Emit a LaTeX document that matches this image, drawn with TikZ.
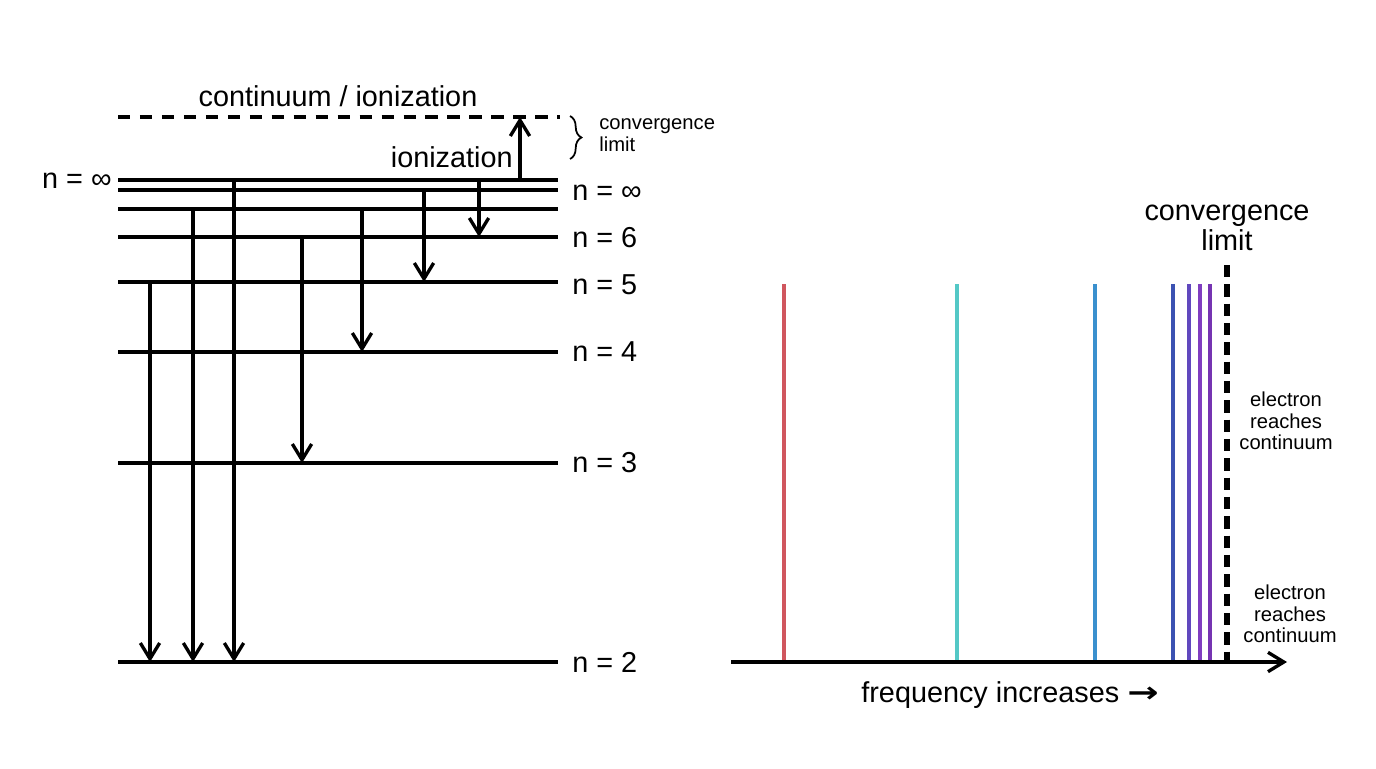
\documentclass[tikz,border=0pt]{standalone}
\usepackage{fontspec}
\setmainfont{Liberation Sans}
\newfontfamily\symfont{DejaVu Sans}
\usepackage{xcolor}
\definecolor{Col1}{RGB}{208,86,94}
\definecolor{Col2}{RGB}{84,200,198}
\definecolor{Col3}{RGB}{58,144,206}
\definecolor{Col4}{RGB}{60,82,178}
\definecolor{Col5}{RGB}{96,72,190}
\definecolor{Col6}{RGB}{128,62,192}
\definecolor{Col7}{RGB}{118,52,178}
\usetikzlibrary{arrows.meta}
\usetikzlibrary{decorations.pathreplacing}
\tikzstyle{Level}=[draw=black,line width=2.1pt]
\tikzstyle{Limit}=[draw=black,line width=2.3pt,dash pattern=on 7pt off 5.5pt]
\tikzstyle{Trans}=[draw=black,line width=1.9pt,
-{Straight Barb[length=9pt,width=11pt]}]
\tikzstyle{Line}=[line width=1.9pt]
\tikzstyle{NodeBig}=[inner sep=0pt,font=\fontsize{16.4}{17.4}\selectfont]
\tikzstyle{NodeSmall}=[inner sep=0pt,align=center,
font=\fontsize{11.5}{12.3}\selectfont]

\begin{document}
\begin{tikzpicture}[x=0.02cm,y=-0.02cm]
        \useasboundingbox(0,0)rectangle(1376,768);
        % levels
        \coordinate(c0)at(118,117);
        \coordinate(c1)at(560,117);
        \coordinate(i0)at(118,180);
        \coordinate(i1)at(558,180);
        \coordinate(j0)at(118,190);
        \coordinate(j1)at(558,190);
        \coordinate(k0)at(118,209);
        \coordinate(k1)at(558,209);
        \coordinate(60)at(118,237);
        \coordinate(61)at(558,237);
        \coordinate(50)at(118,282);
        \coordinate(51)at(558,282);
        \coordinate(40)at(118,352);
        \coordinate(41)at(558,352);
        \coordinate(30)at(118,463);
        \coordinate(31)at(558,463);
        \coordinate(20)at(118,662);
        \coordinate(21)at(558,662);
        \draw[Limit](c0)--(c1);
        \draw[Level](i0)--(i1);
        \draw[Level](j0)--(j1);
        \draw[Level](k0)--(k1);
        \draw[Level](60)--(61);
        \draw[Level](50)--(51);
        \draw[Level](40)--(41);
        \draw[Level](30)--(31);
        \draw[Level](20)--(21);
        % transitions
        \coordinate(t1)at(150,282);
        \coordinate(b1)at(150,662);
        \coordinate(t2)at(193,209);
        \coordinate(b2)at(193,662);
        \coordinate(t3)at(234,180);
        \coordinate(b3)at(234,662);
        \coordinate(t4)at(302,237);
        \coordinate(b4)at(302,463);
        \coordinate(t5)at(362,209);
        \coordinate(b5)at(362,352);
        \coordinate(t6)at(424,190);
        \coordinate(b6)at(424,282);
        \coordinate(t7)at(479,180);
        \coordinate(b7)at(479,237);
        \coordinate(t8)at(520,180);
        \coordinate(b8)at(520,117);
        \draw[Trans](t1)--(b1);
        \draw[Trans](t2)--(b2);
        \draw[Trans](t3)--(b3);
        \draw[Trans](t4)--(b4);
        \draw[Trans](t5)--(b5);
        \draw[Trans](t6)--(b6);
        \draw[Trans](t7)--(b7);
        \draw[Trans](t8)--(b8);
        % labels
        \node[NodeBig](cont)at(338,96){continuum / ionization};
        \node[NodeBig,anchor=east](ion)at(513,157){ionization};
        \node[NodeBig,anchor=east](ninfl)at(112,181){n = ∞};
        \node[NodeBig,anchor=west](ninf)at(572,193){n = ∞};
        \node[NodeBig,anchor=west](n6)at(572,238){n = 6};
        \node[NodeBig,anchor=west](n5)at(572,285){n = 5};
        \node[NodeBig,anchor=west](n4)at(572,352){n = 4};
        \node[NodeBig,anchor=west](n3)at(572,463){n = 3};
        \node[NodeBig,anchor=west](n2)at(572,662){n = 2};
        \coordinate(br0)at(570,116);
        \coordinate(br1)at(570,159);
        \draw[line width=1pt,decorate,
            decoration={brace,amplitude=6.5pt}](br0)--(br1);
        \node[NodeSmall,align=left,anchor=west](conv)at(599,135)
            {convergence\\limit};
        % spectrum
        \coordinate(a0)at(731,662);
        \coordinate(a1)at(1287,662);
        \coordinate(s1)at(784,284);
        \coordinate(e1)at(784,662);
        \coordinate(s2)at(957,284);
        \coordinate(e2)at(957,662);
        \coordinate(s3)at(1095,284);
        \coordinate(e3)at(1095,662);
        \coordinate(s4)at(1173,284);
        \coordinate(e4)at(1173,662);
        \coordinate(s5)at(1189,284);
        \coordinate(e5)at(1189,662);
        \coordinate(s6)at(1200,284);
        \coordinate(e6)at(1200,662);
        \coordinate(s7)at(1210,284);
        \coordinate(e7)at(1210,662);
        \draw[Line,Col1](s1)--(e1);
        \draw[Line,Col2](s2)--(e2);
        \draw[Line,Col3](s3)--(e3);
        \draw[Line,Col4](s4)--(e4);
        \draw[Line,Col5](s5)--(e5);
        \draw[Line,Col6](s6)--(e6);
        \draw[Line,Col7](s7)--(e7);
        \coordinate(d0)at(1227,265);
        \coordinate(d1)at(1227,662);
        \draw[line width=2.9pt,dash pattern=on 7pt off 4pt](d0)--(d1);
        \draw[Trans](a0)--(a1);
        \node[NodeBig,align=center](lim)at(1227,228)
            {convergence\\limit};
        \node[NodeSmall](el1)at(1286,421){electron\\reaches\\continuum};
        \node[NodeSmall](el2)at(1290,614){electron\\reaches\\continuum};
        \node[NodeBig](freq)at(1010,695)
            {frequency increases {\symfont\bfseries\scalebox{1.3}[1]{→}}};
    \end{tikzpicture}
\end{document}
